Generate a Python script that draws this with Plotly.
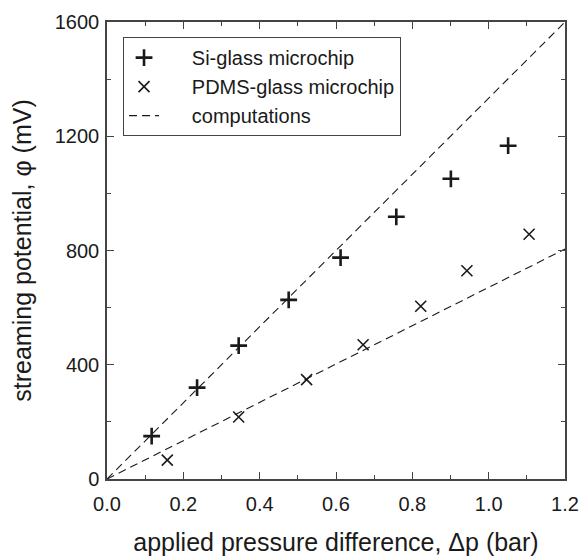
import plotly.graph_objects as go

# Data
si_x = [0.117, 0.236, 0.345, 0.476, 0.612, 0.758, 0.901, 1.051]
si_y = [150, 320, 467, 627, 775, 918, 1051, 1167]

pdms_x = [0.158, 0.345, 0.523, 0.671, 0.822, 0.943, 1.106]
pdms_y = [66, 217, 348, 470, 605, 729, 857]

comp_x = [0.0, 1.2]
comp_si = [0, 1600]
comp_pdms = [0, 805]

x_ticks = [0.0, 0.2, 0.4, 0.6, 0.8, 1.0, 1.2]
y_ticks = [0, 400, 800, 1200, 1600]

FONT = "Liberation Sans, Arial, sans-serif"
AX = "#444444"
PAD = "\u00a0\u00a0\u00a0\u00a0\u00a0"

fig = go.Figure()

fig.add_trace(go.Scatter(
    x=si_x, y=si_y, mode="markers", name=PAD + "Si-glass microchip",
    marker=dict(symbol="cross-thin", size=12, line=dict(width=2.6, color="#1a1a1a"), color="#1a1a1a"),
))
fig.add_trace(go.Scatter(
    x=pdms_x, y=pdms_y, mode="markers", name=PAD + "PDMS-glass microchip",
    marker=dict(symbol="x-thin", size=11, line=dict(width=1.6, color="#1a1a1a"), color="#1a1a1a"),
))
fig.add_trace(go.Scatter(
    x=comp_x, y=comp_si, mode="lines", name=PAD + "computations",
    line=dict(color="#1a1a1a", width=1.1, dash="8px,5px"), legendgroup="comp",
))
fig.add_trace(go.Scatter(
    x=comp_x, y=comp_pdms, mode="lines", name="computations", showlegend=False,
    line=dict(color="#1a1a1a", width=1.1, dash="8px,5px"), legendgroup="comp",
))

fig.update_layout(
    width=579, height=556,
    margin=dict(l=107, r=14, t=22, b=77),
    paper_bgcolor="white", plot_bgcolor="white",
    font=dict(family=FONT, color="#1a1a1a", size=20),
    legend=dict(
        x=0.035, y=0.967, xanchor="left", yanchor="top",
        bgcolor="white", bordercolor=AX, borderwidth=1,
        font=dict(size=20, family=FONT, color="#1a1a1a"),
        tracegroupgap=0,
    ),
    showlegend=True,
)

fig.update_xaxes(
    range=[0, 1.2], tickvals=x_ticks, ticktext=[f"{v:.1f}" for v in x_ticks],
    ticks="inside", ticklen=7, tickwidth=1.2, tickcolor=AX,
    minor=dict(dtick=0.1, ticks="inside", ticklen=4, tickcolor=AX, tickwidth=1),
    showline=True, linecolor=AX, linewidth=1.5, mirror="ticks",
    showgrid=False, zeroline=False, automargin=False, ticklabelstandoff=6,
    tickfont=dict(size=20, family=FONT),
    title=dict(text="applied pressure difference, Δp (bar)", font=dict(size=25, family=FONT), standoff=24),
)
fig.update_yaxes(
    range=[0, 1600], tickvals=y_ticks,
    ticks="inside", ticklen=7, tickwidth=1.2, tickcolor=AX,
    minor=dict(dtick=200, ticks="inside", ticklen=4, tickcolor=AX, tickwidth=1),
    showline=True, linecolor=AX, linewidth=1.5, mirror="ticks",
    showgrid=False, zeroline=False, automargin=False, ticklabelstandoff=2,
    tickfont=dict(size=20, family=FONT),
    title=dict(text="streaming potential, φ (mV)", font=dict(size=25, family=FONT), standoff=16),
)

fig.write_html("out.html")
